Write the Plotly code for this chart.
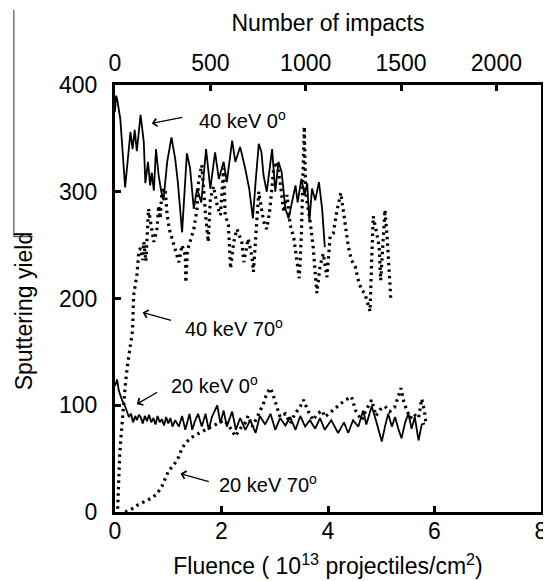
import plotly.graph_objects as go

# ---------------- data ----------------
# 40 keV, 0 deg (solid line)
x_40_0 = [0.00, 0.02, 0.04, 0.10, 0.19, 0.29, 0.33, 0.37, 0.41, 0.48, 0.54, 0.57, 0.62, 0.66, 0.69,
          0.73, 0.77, 0.82, 0.87, 0.91, 0.98, 1.06, 1.13, 1.18, 1.26, 1.29, 1.35, 1.41, 1.48, 1.54,
          1.62, 1.71, 1.79, 1.88, 1.95, 2.04, 2.10, 2.20, 2.26, 2.35, 2.44, 2.52, 2.59, 2.64, 2.70,
          2.75, 2.79, 2.85, 2.95, 3.01, 3.07, 3.13, 3.20, 3.26, 3.32, 3.39, 3.43, 3.50, 3.56, 3.61,
          3.65, 3.70, 3.76, 3.83, 3.89, 3.94]
y_40_0 = [375, 390, 387, 368, 304, 356, 340, 358, 338, 372, 347, 308, 328, 306, 318,
          301, 340, 315, 300, 292, 328, 351, 331, 309, 262, 284, 336, 322, 284, 303,
          290, 340, 303, 337, 312, 328, 309, 348, 328, 342, 323, 303, 275, 309, 345,
          337, 315, 300, 340, 300, 328, 318, 284, 275, 290, 306, 290, 312, 297, 308,
          272, 303, 292, 309, 284, 248]

# 40 keV, 70 deg (dotted)
x_40_70 = [0.05, 0.07, 0.09, 0.12, 0.15, 0.19, 0.23, 0.29, 0.33, 0.35, 0.41, 0.45, 0.48, 0.52, 0.54,
           0.58, 0.60, 0.63, 0.67, 0.70, 0.73, 0.79, 0.82, 0.85, 0.88, 0.94, 0.98, 1.02, 1.07, 1.13,
           1.20, 1.26, 1.32, 1.33, 1.36, 1.39, 1.44, 1.48, 1.54, 1.57, 1.63, 1.66, 1.70, 1.75, 1.79,
           1.85, 1.92, 1.98, 2.04, 2.07, 2.13, 2.17, 2.23, 2.29, 2.38, 2.42, 2.50, 2.57, 2.60, 2.67,
           2.70, 2.76, 2.81, 2.85, 2.91, 2.98, 3.04, 3.10, 3.17, 3.23, 3.29, 3.36, 3.42, 3.46, 3.50,
           3.53, 3.555, 3.58, 3.60, 3.66, 3.72, 3.79, 3.85, 3.91, 3.98, 4.04, 4.10, 4.16, 4.24, 4.28,
           4.32, 4.38, 4.44, 4.51, 4.57, 4.63, 4.69, 4.76, 4.79, 4.82, 4.85, 4.91, 4.96, 4.99, 5.03,
           5.07, 5.11, 5.16, 5.18]
y_40_70 = [3, 30, 55, 75, 95, 117, 136, 158, 170, 203, 222, 245, 247, 236, 253,
           235, 255, 284, 271, 262, 253, 266, 287, 275, 300, 303, 278, 265, 256, 244,
           234, 250, 240, 215, 245, 250, 258, 265, 284, 309, 325, 300, 278, 253, 293,
           305, 287, 278, 322, 278, 269, 228, 253, 265, 253, 234, 256, 240, 225, 278,
           300, 281, 269, 265, 284, 322, 328, 309, 281, 297, 269, 256, 234, 219, 260,
           320, 361, 300, 292, 274, 249, 205, 230, 242, 220, 258, 261, 280, 299, 285,
           270, 249, 236, 230, 217, 208, 205, 192, 188, 236, 277, 262, 249, 217, 249,
           283, 258, 217, 199]

# 20 keV, 0 deg (solid line)
x_20_0 = [0.00, 0.04, 0.07, 0.13, 0.19, 0.26, 0.30, 0.34, 0.38, 0.41, 0.45, 0.48, 0.52, 0.56, 0.60,
          0.64, 0.68, 0.72, 0.76, 0.80, 0.84, 0.88, 0.92, 0.96, 1.00, 1.04, 1.08, 1.13, 1.20, 1.26,
          1.32, 1.40, 1.45, 1.50, 1.56, 1.63, 1.70, 1.76, 1.82, 1.92, 1.98, 2.04, 2.10, 2.20, 2.27,
          2.35, 2.45, 2.54, 2.64, 2.72, 2.82, 2.92, 3.01, 3.10, 3.20, 3.29, 3.39, 3.48, 3.57, 3.66,
          3.76, 3.85, 3.94, 4.06, 4.19, 4.30, 4.38, 4.47, 4.57, 4.66, 4.72, 4.82, 4.90, 5.01, 5.07,
          5.13, 5.20, 5.26, 5.32, 5.38, 5.45, 5.51, 5.57, 5.63, 5.70, 5.76, 5.82]
y_20_0 = [118, 124, 114, 105, 99, 89, 92, 84, 90, 86, 91, 89, 83, 90, 85,
          91, 84, 88, 82, 90, 84, 87, 81, 89, 83, 88, 80, 86, 80, 90,
          77, 92, 77, 85, 92, 80, 92, 77, 89, 100, 83, 95, 80, 94, 77,
          88, 77, 86, 74, 90, 82, 92, 77, 88, 81, 89, 77, 90, 80, 86,
          78, 88, 77, 86, 74, 84, 74, 86, 80, 95, 82, 99, 86, 66, 80,
          92, 80, 89, 78, 69, 84, 92, 78, 89, 67, 82, 83]

# 20 keV, 70 deg (dotted)
x_20_70 = [0.19, 0.32, 0.44, 0.57, 0.69, 0.79, 0.88, 0.95, 1.01, 1.07, 1.13, 1.20, 1.26, 1.32, 1.41,
           1.51, 1.60, 1.70, 1.82, 1.95, 2.05, 2.15, 2.26, 2.35, 2.44, 2.50, 2.58, 2.70, 2.79, 2.85,
           2.92, 2.98, 3.04, 3.10, 3.20, 3.29, 3.38, 3.48, 3.54, 3.62, 3.72, 3.80, 3.89, 3.94, 4.06,
           4.19, 4.30, 4.44, 4.52, 4.63, 4.72, 4.82, 4.90, 4.98, 5.07, 5.16, 5.25, 5.32, 5.37, 5.42,
           5.48, 5.55, 5.60, 5.70, 5.76, 5.81, 5.84]
y_20_70 = [0, 3, 7, 10, 13, 17, 24, 32, 39, 42, 46, 52, 60, 64, 69,
           72, 74, 77, 80, 83, 86, 80, 71, 78, 83, 90, 80, 92, 102, 111,
           116, 108, 99, 89, 92, 83, 92, 99, 105, 95, 86, 92, 95, 89, 94,
           99, 104, 108, 95, 86, 96, 105, 90, 96, 99, 94, 98, 108, 116, 104,
           95, 88, 92, 88, 106, 95, 83]

fluence_ticks = [0, 2, 4, 6, 8]
yield_ticks = [0, 100, 200, 300, 400]
impact_ticks = [0, 500, 1000, 1500, 2000]
impacts_at_fluence_8 = 2234

# annotation labels: (text, text x, text y, arrow tail x, tail y, arrow head x, head y)
labels = [
    ("40 keV 0<sup>o</sup>", 1.54, 368, 1.29, 370, 0.69, 364),
    ("40 keV 70<sup>o</sup>", 1.28, 173, 1.08, 179, 0.52, 187),
    ("20 keV 0<sup>o</sup>", 1.01, 119, 0.82, 113, 0.41, 101),
    ("20 keV 70<sup>o</sup>", 1.92, 27, 1.79, 28, 1.23, 36),
]

FONT = "Arial, 'Liberation Sans', sans-serif"
DOTS = "2.5px,4px"

fig = go.Figure()
fig.add_trace(go.Scatter(x=x_40_0, y=y_40_0, mode="lines", line=dict(color="black", width=1.8)))
fig.add_trace(go.Scatter(x=x_20_0, y=y_20_0, mode="lines", line=dict(color="black", width=1.8)))
fig.add_trace(go.Scatter(x=x_40_70, y=y_40_70, mode="lines",
                         line=dict(color="black", width=3.2, dash=DOTS)))
fig.add_trace(go.Scatter(x=x_20_70, y=y_20_70, mode="lines",
                         line=dict(color="black", width=3.2, dash=DOTS)))
# invisible trace to carry the top axis
fig.add_trace(go.Scatter(x=[0, impacts_at_fluence_8], y=[None, None], xaxis="x2", mode="lines",
                         hoverinfo="skip", line=dict(width=0)))

for text, tx, ty, ax0, ay0, hx, hy in labels:
    fig.add_annotation(x=tx, y=ty, text=text, showarrow=False, xanchor="left", yanchor="middle",
                       font=dict(family=FONT, size=20, color="black"))
    fig.add_annotation(x=hx, y=hy, ax=ax0, ay=ay0, axref="x", ayref="y", text="",
                       showarrow=True, arrowhead=4, arrowsize=1.2, arrowwidth=1.3,
                       arrowcolor="black")

# y axis title (placed as in the reference, slightly below the middle)
fig.add_annotation(xref="paper", yref="paper", x=-0.2136, y=0.47, text="Sputtering yield",
                   textangle=-90, showarrow=False, xanchor="center", yanchor="middle",
                   font=dict(family=FONT, size=23, color="black"))

# stray line artifact at left of the reference image
fig.add_shape(type="line", xref="paper", yref="paper", x0=-0.2374, x1=-0.2374, y0=1.1756, y1=0.6447,
              line=dict(color="#333", width=1))
fig.add_shape(type="line", xref="paper", yref="paper", x0=-0.2374, x1=-0.1927, y0=0.6447, y1=0.6447,
              line=dict(color="#333", width=1))

axis_common = dict(showgrid=False, zeroline=False, ticks="inside", ticklen=6, tickwidth=3,
                   tickcolor="black", automargin=False,
                   tickfont=dict(family=FONT, size=23, color="black"))

# page body has an 8px margin: figure is sized/margined to put the plot area at
# x 115..541, y 85..512 of the window
fig.update_layout(
    width=543, height=573,
    margin=dict(l=107, r=10, t=77, b=69),
    paper_bgcolor="white", plot_bgcolor="white",
    showlegend=False,
    font=dict(family=FONT, size=23, color="black"),
    xaxis=dict(range=[0, 8], tickvals=fluence_ticks, showline=True, linewidth=3, linecolor="black",
               mirror=True, ticklabelstandoff=-4,
               title=dict(text="Fluence ( 10<sup>13</sup> projectiles/cm<sup>2</sup>)",
                          font=dict(family=FONT, size=23), standoff=16),
               **axis_common),
    xaxis2=dict(range=[0, impacts_at_fluence_8], tickvals=impact_ticks, overlaying="x", side="top",
                anchor="y", showline=False, ticklabelstandoff=8,
                title=dict(text="Number of impacts", font=dict(family=FONT, size=23), standoff=12),
                **axis_common),
    yaxis=dict(range=[0, 400], tickvals=yield_ticks, showline=True, linewidth=3, linecolor="black",
               mirror=True, ticklabelstandoff=10,
               **axis_common),
)

fig.write_html("out.html")
